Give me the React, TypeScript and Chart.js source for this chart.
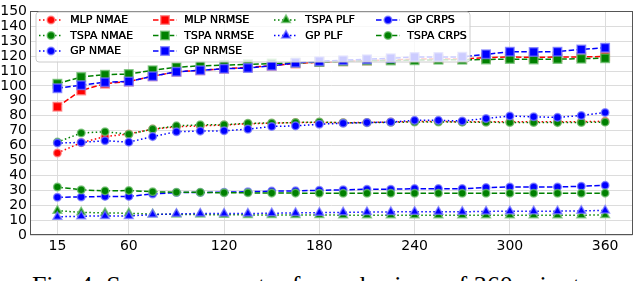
import React, { useEffect, useRef } from 'react';
import { Chart, registerables } from 'chart.js';

Chart.register(...registerables);

// ---------- data ----------
const minutes = [15, 30, 45, 60, 75, 90, 105, 120, 135, 150, 165, 180, 195, 210, 225, 240, 255, 270, 285, 300, 315, 330, 345, 360];
const xTickValues = [15, 60, 120, 180, 240, 300, 360];

const mlpNmae = [55, 62, 66, 67.8, 71, 72.6, 73.2, 73.8, 74.6, 75, 75.4, 75.6, 75.3, 75.5, 75.8, 76.1, 76.1, 76, 76, 76, 76, 76, 76, 76.3];
const tspaNmae = [62.3, 68.4, 69.3, 67.6, 71, 73.2, 73.9, 74, 75, 75.1, 75.5, 75.8, 75.3, 75.4, 75.6, 75.8, 75.8, 75.7, 75.6, 75.5, 75.5, 75.4, 75.5, 75.7];
const gpNmae = [61.7, 62.1, 63.2, 62.3, 66, 69.3, 69.7, 69.9, 71, 72.8, 73.2, 74.3, 75, 75.4, 75.8, 76.9, 76.9, 76.5, 78.2, 79.8, 79.3, 78.9, 80.2, 82.2];
const mlpNrmse = [86, 97, 101.5, 103, 106.5, 109.5, 110.5, 111.5, 112.5, 113.5, 115, 116, 116.5, 117, 117.5, 118, 118, 118, 119, 119.4, 119.2, 119.4, 119.4, 119.8];
const tspaNrmse = [101.5, 106, 107.5, 108, 110.5, 112.5, 113.5, 114, 114.5, 115, 115.5, 116, 116.5, 117, 117, 117.3, 117.5, 117.5, 117.7, 118, 117.8, 118, 118.3, 118.6];
const gpNrmse = [98.5, 100.5, 102.5, 103, 106.5, 109.5, 110.5, 111.5, 112, 113.5, 115.5, 116.5, 117.3, 117.9, 118.6, 119.4, 119.4, 119.5, 121.2, 123, 122.8, 123, 124.5, 125.6];
const tspaPlf = [16.3, 15.2, 14.8, 14.6, 14, 13.8, 13.7, 13.6, 13.5, 13.5, 13.4, 13.4, 13.3, 13.3, 13.3, 13.3, 13.3, 13.3, 13.3, 13.3, 13.3, 13.3, 13.3, 13.4];
const gpPlf = [12.2, 12.6, 12.8, 12.8, 13.7, 14.2, 14.4, 14.4, 14.4, 14.6, 14.8, 15, 15.2, 15.4, 15.5, 15.6, 15.6, 15.6, 15.8, 16, 16, 16, 16.2, 16.5];
const gpCrps = [25.3, 25.5, 25.9, 25.9, 27.5, 28.5, 28.5, 28.7, 29, 29.4, 29.6, 30, 30.3, 30.7, 30.7, 31.1, 31.1, 31.1, 31.8, 32.2, 32.2, 32.2, 32.7, 33.3];
const tspaCrps = [32.2, 30.3, 29.6, 29.8, 29, 28.7, 28.6, 28.3, 28.3, 28.1, 28.1, 28, 28, 28, 28, 28, 28, 28, 28, 28, 28, 28, 28, 28.1];

const seriesLabels = ['MLP NMAE', 'TSPA NMAE', 'GP NMAE', 'MLP NRMSE', 'TSPA NRMSE', 'GP NRMSE', 'TSPA PLF', 'GP PLF', 'GP CRPS', 'TSPA CRPS'];
const seriesValues = [mlpNmae, tspaNmae, gpNmae, mlpNrmse, tspaNrmse, gpNrmse, tspaPlf, gpPlf, gpCrps, tspaCrps];

const RED = '#ff0000';
const GREEN = '#008000';
const BLUE = '#0000ff';
const EDGE: Record<string, string> = {
  [RED]: 'rgba(255,120,120,0.75)',
  [GREEN]: 'rgba(110,190,110,0.75)',
  [BLUE]: 'rgba(120,120,255,0.75)',
};

type Marker = 'circle' | 'rect' | 'triangle';
const DOT = [1.5, 2.5];
const DASH = [5.5, 2.4];

const seriesStyle: { color: string; dash: number[]; marker: Marker }[] = [
  { color: RED, dash: DOT, marker: 'circle' },
  { color: GREEN, dash: DOT, marker: 'circle' },
  { color: BLUE, dash: DOT, marker: 'circle' },
  { color: RED, dash: DASH, marker: 'rect' },
  { color: GREEN, dash: DASH, marker: 'rect' },
  { color: BLUE, dash: DASH, marker: 'rect' },
  { color: GREEN, dash: DOT, marker: 'triangle' },
  { color: BLUE, dash: DOT, marker: 'triangle' },
  { color: BLUE, dash: DASH, marker: 'circle' },
  { color: GREEN, dash: DASH, marker: 'circle' },
];

const markerRadius: Record<Marker, number> = { circle: 3.8, rect: 6, triangle: 5 };

function drawMarker(ctx: CanvasRenderingContext2D, m: Marker, x: number, y: number, color: string) {
  const r = markerRadius[m];
  ctx.beginPath();
  if (m === 'circle') {
    ctx.arc(x, y, r, 0, Math.PI * 2);
  } else if (m === 'rect') {
    const s = r * Math.SQRT1_2;
    ctx.rect(x - s, y - s, 2 * s, 2 * s);
  } else {
    for (let k = 0; k < 3; k++) {
      const a = (k * 2 * Math.PI) / 3;
      const px = x + Math.sin(a) * r;
      const py = y - Math.cos(a) * r;
      if (k === 0) ctx.moveTo(px, py);
      else ctx.lineTo(px, py);
    }
    ctx.closePath();
  }
  ctx.setLineDash([]);
  ctx.fillStyle = color;
  ctx.fill();
  ctx.lineWidth = 1.5;
  ctx.strokeStyle = EDGE[color];
  ctx.stroke();
}

const frameAndLegend = {
  id: 'frameAndLegend',
  afterDatasetsDraw(chart: any) {
    const ctx: CanvasRenderingContext2D = chart.ctx;
    const a = chart.chartArea;
    ctx.save();
    // frame
    ctx.setLineDash([]);
    ctx.strokeStyle = '#555555';
    ctx.lineWidth = 1;
    ctx.strokeRect(Math.round(a.left) + 0.5, Math.round(a.top) + 0.5, Math.round(a.right - a.left) - 1, Math.round(a.bottom - a.top) - 1);

    // legend box
    const bx = 36, by = 12, bw = 434, bh = 50, rr = 3;
    ctx.beginPath();
    ctx.moveTo(bx + rr, by);
    ctx.lineTo(bx + bw - rr, by);
    ctx.arcTo(bx + bw, by, bx + bw, by + rr, rr);
    ctx.lineTo(bx + bw, by + bh - rr);
    ctx.arcTo(bx + bw, by + bh, bx + bw - rr, by + bh, rr);
    ctx.lineTo(bx + rr, by + bh);
    ctx.arcTo(bx, by + bh, bx, by + bh - rr, rr);
    ctx.lineTo(bx, by + rr);
    ctx.arcTo(bx, by, bx + rr, by, rr);
    ctx.closePath();
    ctx.fillStyle = 'rgba(255,255,255,0.8)';
    ctx.fill();
    ctx.strokeStyle = '#cccccc';
    ctx.lineWidth = 1;
    ctx.stroke();

    const colX = [39, 153, 274, 376];
    const rowY = [20, 35.5, 51];
    const colOf = [0, 0, 0, 1, 1, 1, 2, 2, 3, 3];
    const rowOf = [0, 1, 2, 0, 1, 2, 0, 1, 0, 1];
    const handleLen = 24;
    ctx.font = '11px "DejaVu Sans"';
    ctx.textBaseline = 'middle';
    ctx.textAlign = 'left';
    seriesLabels.forEach((label, i) => {
      const st = seriesStyle[i];
      const x0 = colX[colOf[i]];
      const y0 = rowY[rowOf[i]];
      ctx.beginPath();
      ctx.setLineDash(st.dash);
      ctx.strokeStyle = st.color;
      ctx.lineWidth = 1.5;
      ctx.moveTo(x0, y0);
      ctx.lineTo(x0 + handleLen, y0);
      ctx.stroke();
      drawMarker(ctx, st.marker, x0 + handleLen / 2, y0, st.color);
      ctx.fillStyle = '#000000';
      ctx.fillText(label, x0 + handleLen + 7, y0 + 0.5);
      ctx.fillText(label, x0 + handleLen + 7.3, y0 + 0.5);
    });
    ctx.restore();
  },
};

const tickFont = { family: '"DejaVu Sans"', size: 14 };

export default function App() {
  const ref = useRef<HTMLCanvasElement>(null);

  useEffect(() => {
    const n = seriesLabels.length;
    const datasets = seriesLabels.map((label, i) => {
      const st = seriesStyle[i];
      return {
        label,
        data: minutes.map((m, j) => ({ x: m, y: seriesValues[i][j] })),
        borderColor: st.color,
        borderWidth: 1.5,
        borderDash: st.dash,
        backgroundColor: st.color,
        pointStyle: st.marker,
        pointRadius: markerRadius[st.marker],
        pointHoverRadius: markerRadius[st.marker],
        pointBackgroundColor: st.color,
        pointBorderColor: EDGE[st.color],
        pointBorderWidth: 1.5,
        fill: false,
        tension: 0,
        order: n - i,
      };
    });

    const chart = new Chart(ref.current as HTMLCanvasElement, {
      type: 'line',
      data: { datasets } as any,
      options: {
        animation: false,
        responsive: false,
        devicePixelRatio: 1,
        events: [],
        layout: { padding: { left: 0, right: 2, top: 5, bottom: 0 } },
        plugins: { legend: { display: false }, tooltip: { enabled: false } },
        scales: {
          x: {
            type: 'linear',
            min: -2.25,
            max: 377.25,
            afterBuildTicks: (scale: any) => {
              scale.ticks = xTickValues.map((v) => ({ value: v }));
            },
            afterFit: (scale: any) => {
              scale.height = 27;
            },
            grid: { color: '#dcdcdc', lineWidth: 1, drawTicks: false },
            border: { display: false },
            ticks: { font: tickFont, color: '#000000', padding: 3, maxRotation: 0, autoSkip: false, callback: (v: any) => String(v) },
          },
          y: {
            type: 'linear',
            min: 0,
            max: 150,
            afterFit: (scale: any) => {
              scale.width = 30;
            },
            grid: { color: '#dcdcdc', lineWidth: 1, drawTicks: false },
            border: { display: false },
            ticks: { font: tickFont, color: '#000000', padding: 3, stepSize: 10, autoSkip: false },
          },
        },
      } as any,
      plugins: [frameAndLegend],
    });
    return () => chart.destroy();
  }, []);

  return (
    <div style={{ position: 'fixed', left: 0, top: 0, width: 640, height: 281, overflow: 'hidden', background: '#ffffff' }}>
      <canvas ref={ref} width={640} height={262} style={{ display: 'block', width: 640, height: 262 }} />
      <div
        style={{
          position: 'absolute',
          left: 0,
          top: 273,
          width: 640,
          textAlign: 'center',
          fontFamily: '"Liberation Serif", "Times New Roman", serif',
          fontSize: 26,
          lineHeight: '26px',
          whiteSpace: 'nowrap',
          color: '#000000',
        }}
      >
        Fig. 4: Score per quarter for an horizon of 360 minutes.
      </div>
    </div>
  );
}
